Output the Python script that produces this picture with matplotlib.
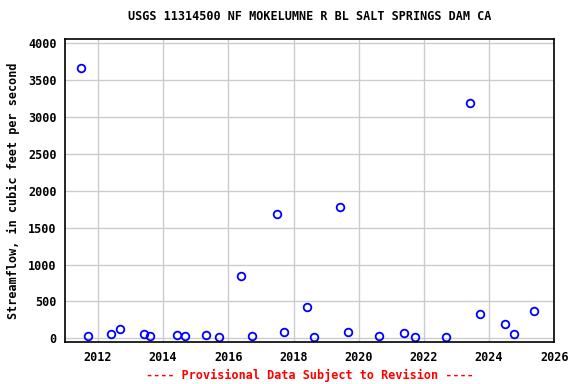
import matplotlib
matplotlib.use("Agg")
import matplotlib.pyplot as plt
from matplotlib.transforms import blended_transform_factory

# decimal years and streamflow (cfs)
years = [2011.47, 2011.70, 2012.39, 2012.68, 2013.41, 2013.60, 2014.43, 2014.67,
         2015.31, 2015.71, 2016.39, 2016.73, 2017.49, 2017.72, 2018.41, 2018.63,
         2019.43, 2019.67, 2020.62, 2021.39, 2021.73, 2022.68, 2023.41, 2023.72,
         2024.50, 2024.75, 2025.39]
flow = [3660, 31, 58, 126, 58, 31, 45, 31,
        45, 18, 841, 31, 1681, 81, 424, 18,
        1776, 81, 31, 68, 18, 18, 3186, 325,
        190, 58, 370]

xticks = [2012, 2014, 2016, 2018, 2020, 2022, 2024, 2026]
yticks = [0, 500, 1000, 1500, 2000, 2500, 3000, 3500, 4000]

plt.rcParams["font.family"] = ["DejaVu Sans Mono"]
plt.rcParams["font.weight"] = "bold"

fig = plt.figure(figsize=(5.76, 3.84), dpi=100)
ax = fig.add_axes([65 / 576, 1 - 342.3 / 384, (554.3 - 65) / 576, (342.3 - 39.3) / 384])

ax.plot(years, flow, linestyle="none", marker="o", markersize=5.5,
        markerfacecolor="none", markeredgecolor="blue", markeredgewidth=1.3)

ax.set_xlim(2010.99, 2026.0)
ax.set_ylim(-54, 4054)
ax.set_xticks(xticks)
ax.set_yticks(yticks)
ax.set_xticklabels([str(t) for t in xticks], fontsize=8.5, fontweight="bold")
ax.set_yticklabels([str(t) for t in yticks], fontsize=8.5, fontweight="bold")
ax.tick_params(length=0, pad=6)
ax.grid(True, color="#cccccc", linewidth=1)
ax.set_axisbelow(True)
for s in ax.spines.values():
    s.set_linewidth(1.2)

ax.set_title("USGS 11314500 NF MOKELUMNE R BL SALT SPRINGS DAM CA",
             fontsize=8.5, fontweight="bold", pad=14)
ax.set_ylabel("Streamflow, in cubic feet per second", fontsize=8.5,
              fontweight="bold", labelpad=6)

# footer centred on the axes, not the figure
trans = blended_transform_factory(ax.transAxes, fig.transFigure)
ax.text(0.5, 1 - 375 / 384, "---- Provisional Data Subject to Revision ----",
        transform=trans, color="red", ha="center", va="center",
        fontsize=8.5, fontweight="bold")

fig.savefig("out.png", dpi=100)
